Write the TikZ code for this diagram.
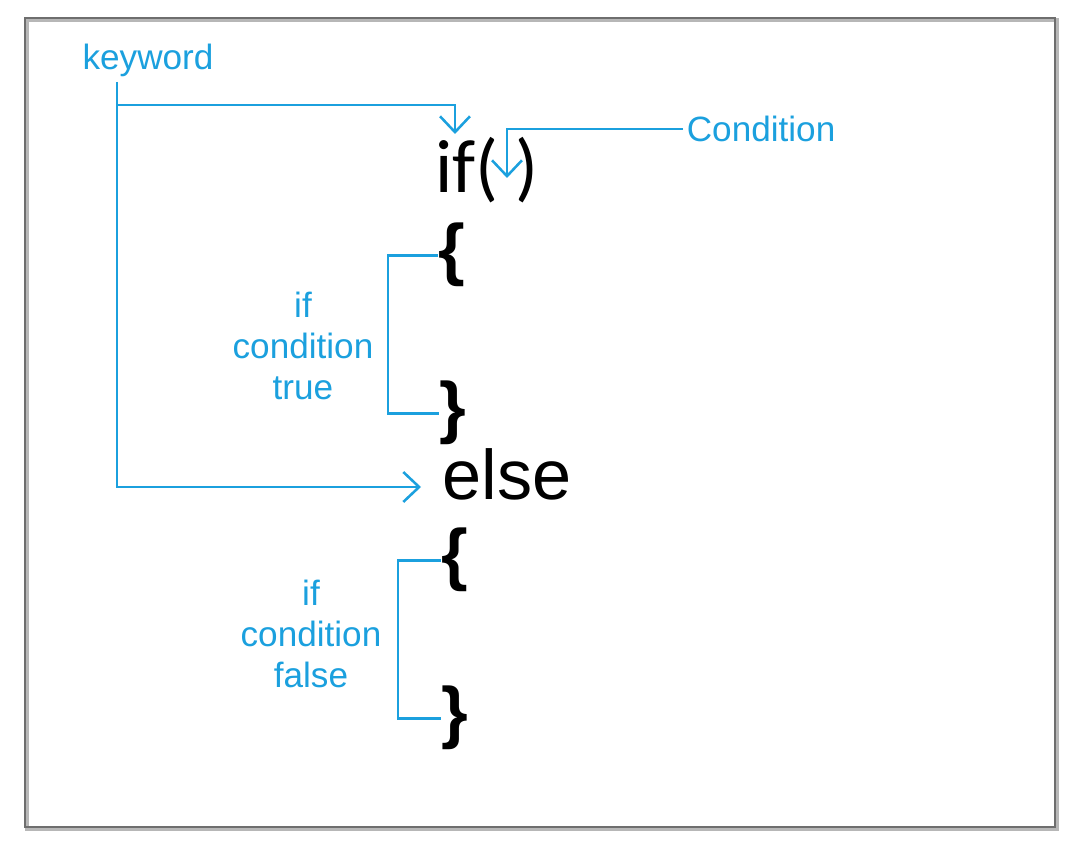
\documentclass[tikz,border=0pt]{standalone}
\usepackage{fontspec}
\setmainfont{Liberation Sans}
\newfontfamily\calfont{Carlito}
\usetikzlibrary{arrows.meta}
\definecolor{lblue}{RGB}{27,160,222}
\definecolor{framegray}{RGB}{110,110,110}
\tikzset{
  bluetext/.style={text=lblue, font=\fontsize{20}{23.3}\selectfont, inner sep=2pt, align=center},
  codetext/.style={text=black, font=\fontsize{40}{45}\selectfont, inner sep=0pt, anchor=base west},
  bracetext/.style={codetext, font=\bfseries\fontsize{39}{44}\selectfont},
  conn/.style={draw=lblue, line width=1.45pt},
  arr/.style={-{Straight Barb[length=9pt,width=17pt,line width=1.45pt]}},
}
\begin{document}
\begin{tikzpicture}[x=0.02cm,y=-0.02cm]
\useasboundingbox (0,0) rectangle (1080,851);
% frame
\draw[framegray!50, line width=2pt] (27,20) rectangle (1057,829);
\draw[framegray, line width=1.3pt] (25,18) rectangle (1055,827);

% code text
\node[codetext, font=\calfont\fontsize{43}{48}\selectfont] (iftxt) at (435,193) {if( )};
\node[bracetext] (ob1) at (438,273) {\{};
\node[bracetext] (cb1) at (439,431) {\}};
\node[codetext] (elsetxt) at (442,500) {else};
\node[bracetext] (ob2) at (441,578) {\{};
\node[bracetext] (cb2) at (441,736) {\}};

% labels
\node[bluetext] (kw) at (148,60) {keyword};
\node[bluetext, anchor=west] (cond) at (683,129) {Condition};
\node[bluetext] (truelbl) at (303,346) {if\\condition\\true};
\node[bluetext] (falselbl) at (311,634) {if\\condition\\false};

% connector coordinates
\coordinate (kstart) at (117,82);
\coordinate (ifin) at (455,134);
\coordinate (elsein) at (421,487);
\coordinate (condin) at (507,178);

% keyword connectors
\draw[conn, arr] (kstart) |- (elsein);
\draw[conn, arr] (kstart |- 0,105) -| (ifin);
% condition connector
\draw[conn, arr] (cond.west) -| (condin);
% brace brackets
\draw[conn] (ob1.west) -- ++(-50,0) |- (cb1.west);
\draw[conn] (ob2.west) -- ++(-43,0) |- (cb2.west);
\end{tikzpicture}
\end{document}
